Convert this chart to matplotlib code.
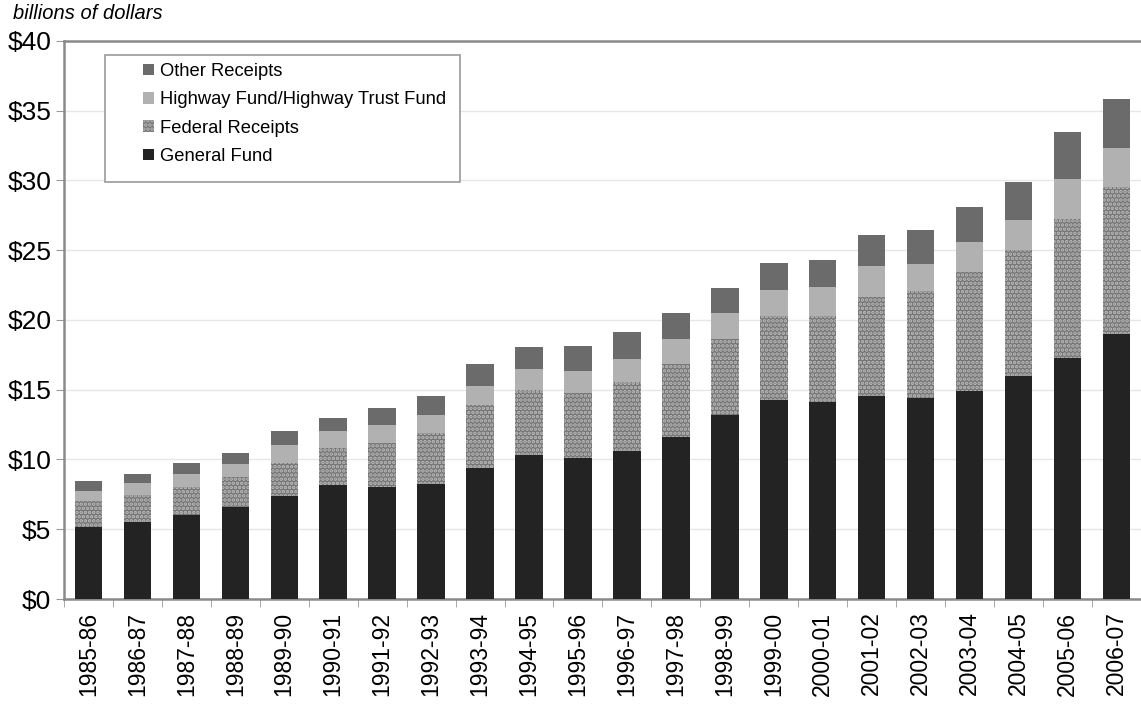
import matplotlib.pyplot as plt
from matplotlib.patches import Rectangle
import numpy as np

plt.rcParams["font.family"] = ["Liberation Sans", "DejaVu Sans"]
plt.rcParams["hatch.linewidth"] = 1.8

years = ["1985-86", "1986-87", "1987-88", "1988-89", "1989-90", "1990-91",
         "1991-92", "1992-93", "1993-94", "1994-95", "1995-96", "1996-97",
         "1997-98", "1998-99", "1999-00", "2000-01", "2001-02", "2002-03",
         "2003-04", "2004-05", "2005-06", "2006-07"]

# stacked values read as cumulative tops, then converted to segments
general_fund = [5.18, 5.54, 6.02, 6.62, 7.41, 8.17, 8.00, 8.24, 9.37, 10.30, 10.08,
                10.63, 11.61, 13.17, 14.29, 14.10, 14.58, 14.41, 14.91, 15.99, 17.25, 18.97]
federal_top = [7.00, 7.46, 8.05, 8.77, 9.77, 10.82, 11.16, 11.88, 13.90, 14.98, 14.79,
               15.53, 16.87, 18.64, 20.29, 20.29, 21.67, 22.10, 23.42, 25.02, 27.26, 29.50]
highway_top = [7.76, 8.29, 8.94, 9.65, 11.02, 12.04, 12.50, 13.20, 15.27, 16.47, 16.34,
               17.18, 18.64, 20.48, 22.17, 22.34, 23.85, 24.04, 25.57, 27.19, 30.08, 32.35]
other_top = [8.46, 8.98, 9.77, 10.47, 12.07, 13.00, 13.67, 14.57, 16.82, 18.04, 18.16,
             19.14, 20.50, 22.29, 24.09, 24.32, 26.07, 26.43, 28.10, 29.87, 33.50, 35.82]

gf = np.array(general_fund)
fed = np.array(federal_top) - gf
hwy = np.array(highway_top) - np.array(federal_top)
oth = np.array(other_top) - np.array(highway_top)

fig = plt.figure(figsize=(11.41, 7.11), dpi=100)
ax = fig.add_axes([0.056, 0.1575, 0.944, 0.785])

x = np.arange(len(years))
w = 0.56
ax.bar(x, gf, w, color="#232323", zorder=3, label="General Fund")
ax.bar(x, fed, w, bottom=gf, facecolor="#737373", edgecolor="#bcbcbc",
       hatch="....", linewidth=0, zorder=3, label="Federal Receipts")
ax.bar(x, hwy, w, bottom=gf + fed, color="#b1b1b1", zorder=3,
       label="Highway Fund/Highway Trust Fund")
ax.bar(x, oth, w, bottom=gf + fed + hwy, color="#6b6b6b", zorder=3, label="Other Receipts")

ax.set_xlim(-0.5, len(years) - 0.5)
ax.set_ylim(0, 40)
ax.set_yticks(range(0, 41, 5))
ax.set_yticklabels([f"${v}" for v in range(0, 41, 5)], fontsize=19)
ax.set_xticks(x)
ax.set_xticklabels(years, rotation=90, fontsize=16.5)
ax.set_xticks(np.arange(-0.5, len(years), 1), minor=True)
ax.tick_params(axis="x", which="major", length=0, pad=9)
ax.tick_params(axis="x", which="minor", length=6, color="#999999")
ax.tick_params(axis="y", length=6, color="#999999", pad=3)
ax.grid(axis="y", color="#e6e6e6", linewidth=1, zorder=0)

for side in ["left", "bottom", "top"]:
    ax.spines[side].set_color("#8a8a8a")
    ax.spines[side].set_linewidth(1.8)
ax.spines["right"].set_visible(False)

fig.text(0.011, 0.995, "billions of dollars", fontsize=14.5, style="italic",
         ha="left", va="top")

# legend box
handles, labels = ax.get_legend_handles_labels()
ax.add_patch(Rectangle((0.038, 0.748), 0.33, 0.226, transform=ax.transAxes,
                       facecolor="white", edgecolor="#9a9a9a", linewidth=1.2, zorder=4))
ax.legend(handles[::-1], labels[::-1], loc="upper left", bbox_to_anchor=(0.06, 0.987),
          frameon=False, fontsize=13.2, handlelength=0.6, handleheight=0.6,
          handletextpad=0.3, labelspacing=0.62, borderpad=0.3).set_zorder(5)

fig.savefig("out.png", dpi=100)
